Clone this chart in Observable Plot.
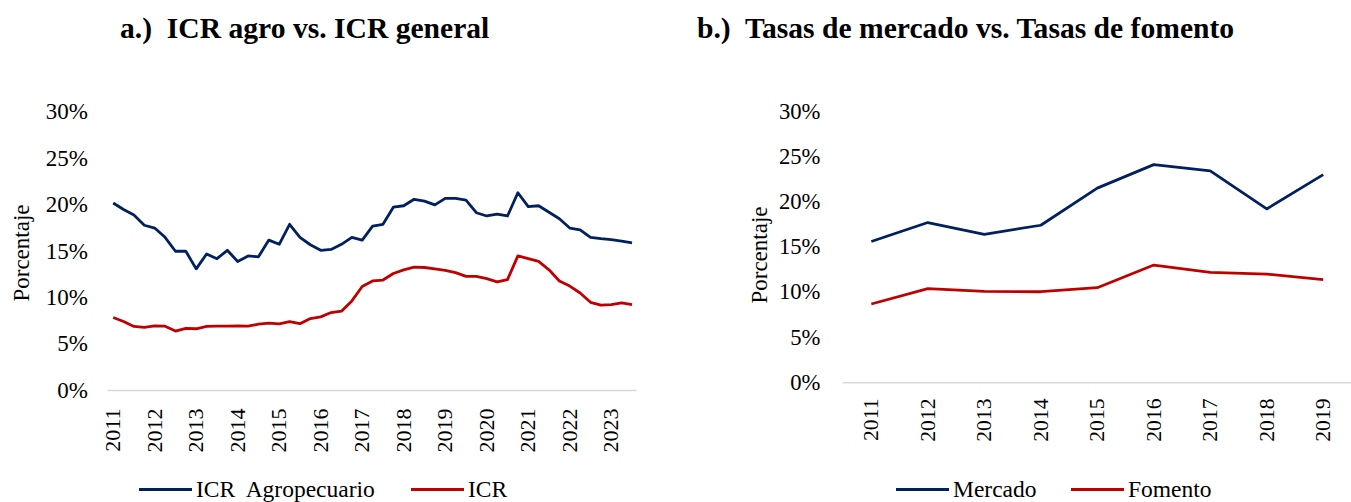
<!DOCTYPE html>
<html>
<head>
<meta charset="utf-8">
<script src="https://cdn.jsdelivr.net/npm/d3@7"></script>
<script src="https://cdn.jsdelivr.net/npm/@observablehq/plot@0.6"></script>
<style>
  html, body { margin: 0; padding: 0; background: #fff; overflow: hidden; }
  #page { position: relative; width: 1351px; height: 502px; font-family: "Liberation Serif", "Times New Roman", serif; color: #000; }
  .title { position: absolute; top: 10px; height: 36px; line-height: 36px; font-size: 29.6px; font-weight: bold; white-space: pre; }
  .ylab { position: absolute; font-size: 23px; transform: translate(-50%, -50%) rotate(-90deg); white-space: nowrap; }
  .chart { position: absolute; top: 60px; }
  .leg { position: absolute; top: 476px; height: 26px; line-height: 26px; font-size: 23.5px; white-space: pre; display: flex; align-items: center; }
  .leg .sw { display: inline-block; width: 53px; height: 3px; margin-right: 4px; }
  .chart svg g[aria-label="y-axis tick label"] text { font-size: 23px; }
</style>
</head>
<body>
<div id="page">
  <div class="title" style="left:120px">a.)  ICR agro vs. ICR general</div>
  <div class="title" style="left:697px">b.)  Tasas de mercado vs. Tasas de fomento</div>
  <div class="ylab" style="left:22px; top:253px">Porcentaje</div>
  <div class="ylab" style="left:760px; top:255px">Porcentaje</div>
  <div id="left" class="chart" style="left:0px"></div>
  <div id="right" class="chart" style="left:680px"></div>
  <div class="leg" style="left:139px"><span class="sw" style="background:#002060"></span>ICR  Agropecuario</div>
  <div class="leg" style="left:411px"><span class="sw" style="background:#C00000"></span>ICR</div>
  <div class="leg" style="left:896px"><span class="sw" style="background:#002060"></span>Mercado</div>
  <div class="leg" style="left:1071px"><span class="sw" style="background:#C00000"></span>Fomento</div>
</div>
<script>
// ---- Data (percent) ----
// Panel a: quarterly, 2011 Q1 .. 2023 Q3
const startYear = 2011;
const icrAgro = [20.2, 19.5, 18.9, 17.8, 17.5, 16.5, 15.0, 15.0, 13.1, 14.7, 14.2, 15.1, 13.9, 14.5, 14.4, 16.2,
  15.75, 17.9, 16.5, 15.7, 15.1, 15.2, 15.75, 16.5, 16.2, 17.7, 17.9, 19.75, 19.9, 20.6, 20.4, 20.0,
  20.7, 20.7, 20.5, 19.15, 18.8, 19.0, 18.8, 21.3, 19.8, 19.9, 19.2, 18.5, 17.5, 17.3, 16.5, 16.35,
  16.25, 16.1, 15.9];
const icrGeneral = [7.86, 7.43, 6.9, 6.8, 6.96, 6.93, 6.4, 6.7, 6.65, 6.9, 6.93, 6.93, 6.96, 6.93, 7.14, 7.25,
  7.18, 7.43, 7.2, 7.75, 7.93, 8.4, 8.54, 9.65, 11.2, 11.8, 11.9, 12.6, 13.0, 13.3, 13.25, 13.1,
  12.95, 12.7, 12.3, 12.3, 12.05, 11.7, 11.95, 14.5, 14.2, 13.9, 13.0, 11.8, 11.25, 10.5, 9.5, 9.2,
  9.25, 9.45, 9.25];
const yearsA = [2011, 2012, 2013, 2014, 2015, 2016, 2017, 2018, 2019, 2020, 2021, 2022, 2023];

// Panel b: annual
const yearsB = [2011, 2012, 2013, 2014, 2015, 2016, 2017, 2018, 2019];
const mercado = [15.6, 17.7, 16.4, 17.4, 21.5, 24.1, 23.4, 19.2, 23.0];
const fomento = [8.7, 10.4, 10.1, 10.05, 10.5, 13.0, 12.2, 12.0, 11.4];

const yTicks = [0, 5, 10, 15, 20, 25, 30];

const BLUE = "#002060", RED = "#C00000";

// ---- Tables ----
const tableA = [
  ...icrAgro.map((v, i) => ({t: startYear + i / 4, v: v / 100, s: "ICR  Agropecuario"})),
  ...icrGeneral.map((v, i) => ({t: startYear + i / 4, v: v / 100, s: "ICR"}))
];
const tableB = [
  ...mercado.map((v, i) => ({t: yearsB[i], v: v / 100, s: "Mercado"})),
  ...fomento.map((v, i) => ({t: yearsB[i], v: v / 100, s: "Fomento"}))
];

const style = {fontFamily: "'Liberation Serif', 'Times New Roman', serif", fontSize: "22px", color: "#000", background: "transparent", overflow: "visible"};

function panel({data, xDomain, xTicks, width, marginLeft, marginRight, marginTop, marginBottom, colorDomain, yPad, xPad}) {
  return Plot.plot({
    width, height: 410, marginLeft, marginRight, marginTop, marginBottom,
    style,
    x: {domain: xDomain},
    y: {domain: [0, 0.30]},
    color: {domain: colorDomain, range: [BLUE, RED]},
    marks: [
      Plot.ruleY([0], {stroke: "#d9d9d9", strokeWidth: 1.5}),
      Plot.line(data, {x: "t", y: "v", z: "s", stroke: "s", strokeWidth: 2.8, strokeLinejoin: "round", strokeLinecap: "butt"}),
      Plot.axisY({ticks: yTicks.map(d => d / 100), tickFormat: d3.format(".0%"), tickSize: 0, tickPadding: yPad, label: null, fontSize: 23}),
      Plot.axisX({ticks: xTicks, tickFormat: d => String(d), tickRotate: -90, tickSize: 0, tickPadding: xPad, label: null})
    ]
  });
}

document.getElementById("left").append(panel({
  data: tableA,
  xDomain: [startYear - 0.125, startYear + (icrAgro.length - 1) / 4 + 0.125],
  xTicks: yearsA,
  width: 660, marginLeft: 107.5, marginRight: 23.3, marginTop: 51.5, marginBottom: 80,
  colorDomain: ["ICR  Agropecuario", "ICR"], yPad: 20, xPad: 18
}));

document.getElementById("right").append(panel({
  data: tableB,
  xDomain: [2010.5, 2019.5],
  xTicks: yearsB,
  width: 681, marginLeft: 165, marginRight: 0, marginTop: 51.5, marginBottom: 83,
  colorDomain: ["Mercado", "Fomento"], yPad: 23, xPad: 16
}));
</script>
</body>
</html>
